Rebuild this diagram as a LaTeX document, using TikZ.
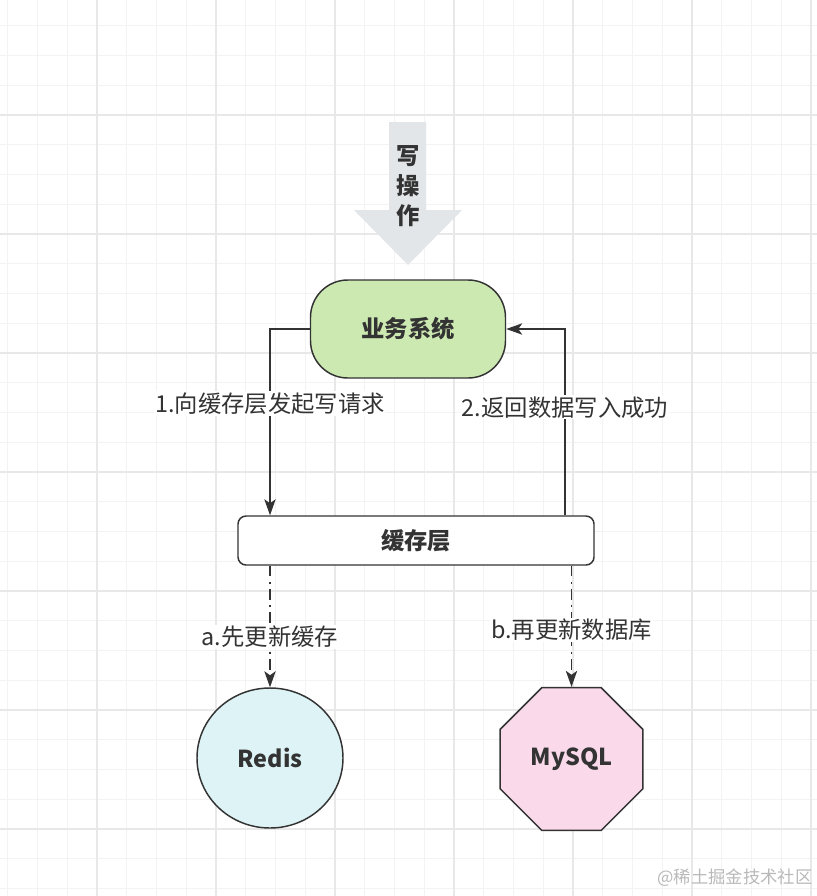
\documentclass[tikz,border=0pt]{standalone}
\usepackage{fontspec}
\setmainfont{Noto Sans CJK SC}
\usetikzlibrary{arrows.meta,shapes.geometric}

\definecolor{inkgray}{HTML}{333333}
\definecolor{opgray}{HTML}{E2E6E8}
\definecolor{bizgreen}{HTML}{CDE9B2}
\definecolor{redisblue}{HTML}{DDF3F5}
\definecolor{mysqlpink}{HTML}{F9D9EA}
\definecolor{gridminor}{HTML}{F3F3F3}
\definecolor{gridmajor}{HTML}{E8E8E8}

\begin{document}
\begin{tikzpicture}[x=0.75pt, y=-0.75pt, >={Stealth[length=12pt,width=8.5pt,inset=3pt]},
    every node/.style={text=inkgray, font=\fontsize{17.5}{22}\selectfont},
    box/.style={draw=inkgray, line width=1.1pt, font=\bfseries\fontsize{17.5}{22}\selectfont},
    flow/.style={->, draw=inkgray, line width=1.1pt},
    dashdot/.style={flow, dash pattern=on 8pt off 4pt on 1.5pt off 4pt},
    lbl/.style={fill=white, inner sep=1pt}]
    \useasboundingbox (0,0) rectangle (817,896);
    \fill[white] (0,0) rectangle (817,896);

    % Background grid
    \foreach \k in {0,...,27}
        \draw[gridminor, line width=0.8pt] ({7.75+29.75*\k},0) -- ({7.75+29.75*\k},896);
    \foreach \k in {1,...,30}
        \draw[gridminor, line width=0.8pt] (0,{-4+29.75*\k}) -- (817,{-4+29.75*\k});
    \foreach \k in {0,...,6} {
        \draw[gridmajor, line width=0.8pt] ({97+119*\k},0) -- ({97+119*\k},896);
        \draw[gridmajor, line width=0.8pt] (0,{115+119*\k}) -- (817,{115+119*\k});
    }

    % Write operation arrow
    \fill[opgray] (389,122) -- (426,122) -- (426,210) -- (462,210) -- (408,265)
        -- (354,210) -- (389,210) -- cycle;
    \node[align=center, font=\bfseries\fontsize{17.5}{22.5}\selectfont] (op) at (408,186) {写\\操\\作};

    % Nodes
    \node[box, fill=bizgreen, rounded corners=28pt, minimum width=146.25pt, minimum height=73.5pt] (biz) at (408,329) {业务系统};
    \node[box, fill=white, rounded corners=6pt, minimum width=267pt, minimum height=36.75pt] (cache) at (416,540.5) {缓存层};
    \node[box, fill=redisblue, ellipse, minimum width=109.5pt, minimum height=105pt] (redis) at (270,758) {Redis};
    \node[box, fill=mysqlpink, regular polygon, regular polygon sides=8, minimum size=116pt, inner sep=0pt] (mysql) at (571.5,759) {MySQL};

    \coordinate (lx) at (270,0);
    \coordinate (rx) at (565,0);

    % Request and reply
    \draw[flow] (biz.west) -| (lx |- cache.north) node[lbl, pos=0.7] {1.向缓存层发起写请求};
    \draw[flow] (rx |- cache.north) |- (biz.east) node[lbl, pos=0.29] {2.返回数据写入成功};

    % Cache then database
    \draw[dashdot] (cache.south -| redis.north) -- (redis.north) node[lbl, pos=0.585] {a.先更新缓存};
    \draw[dashdot] (cache.south -| mysql.north) -- (mysql.north) node[lbl, pos=0.53] {b.再更新数据库};

    \node[text=gray!55, font=\fontsize{13}{15}\selectfont] (mark) at (735,878) {@稀土掘金技术社区};
\end{tikzpicture}
\end{document}
